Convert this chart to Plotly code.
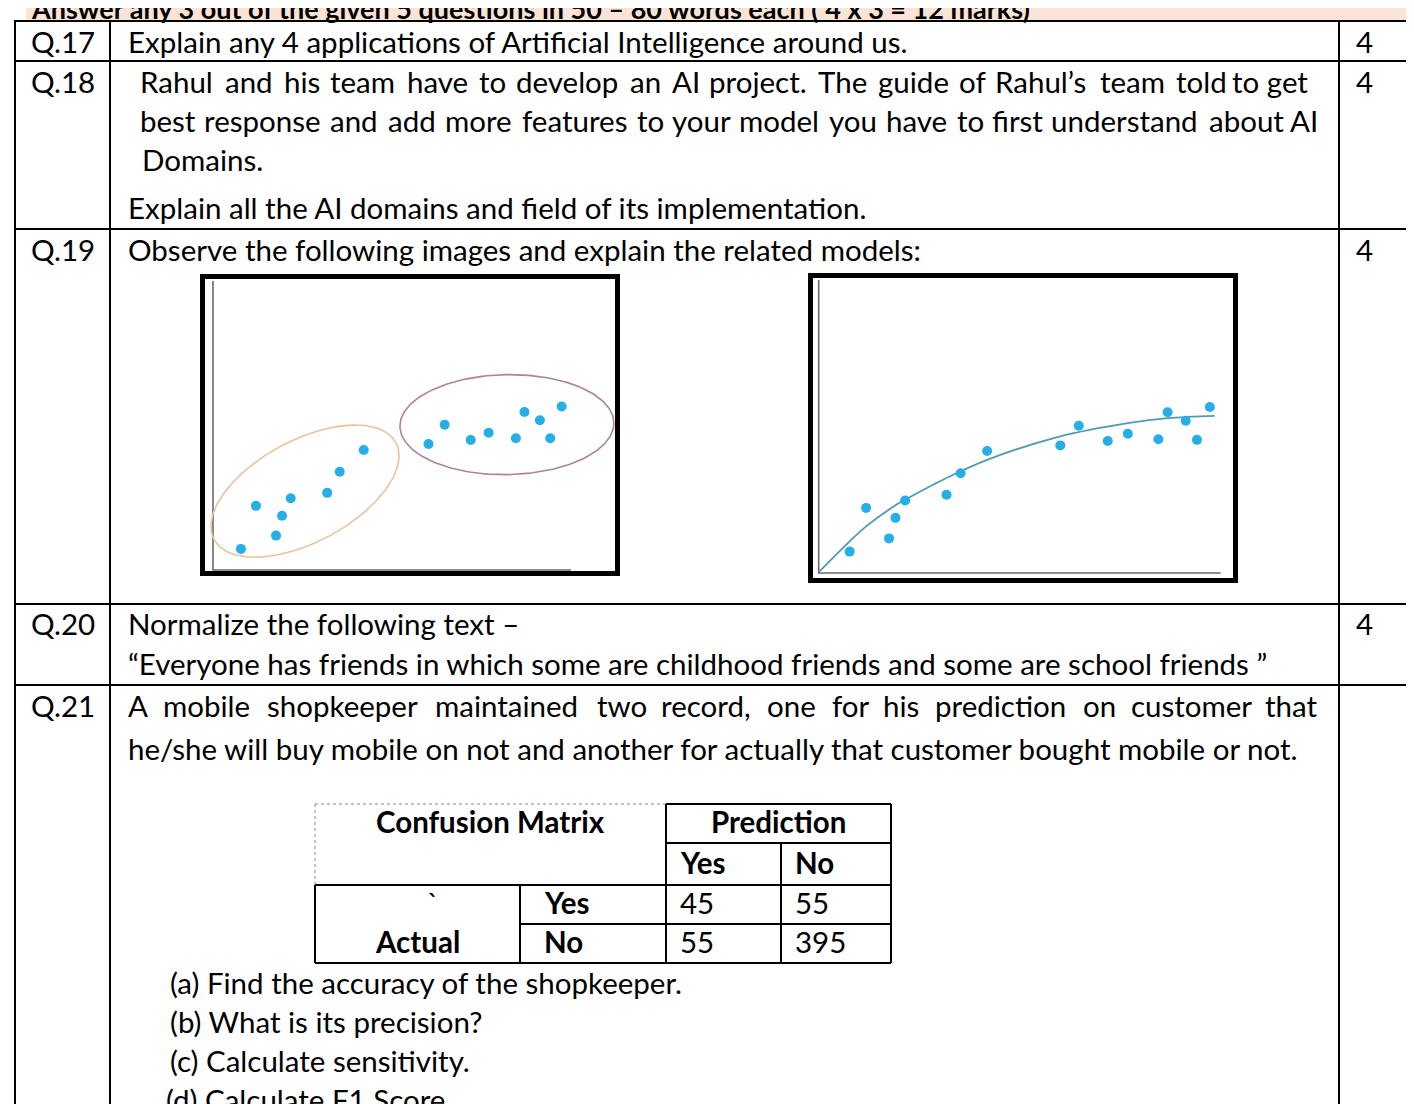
import numpy as np
import plotly.graph_objects as go

W, H = 1414, 1104
FONT = "Lato"
FS = 29.5

# ---------------- data ----------------
# left picture points (data units 0-100 on each axis)
pts_x = [7.8, 17.6, 19.3, 12.0, 21.7, 31.9, 35.4, 42.1, 60.2, 64.7, 72.0, 77.0, 84.6, 87.0, 91.3, 94.2, 97.4]
pts_y = [7.3, 11.9, 18.8, 22.2, 24.8, 26.7, 34.0, 41.5, 43.6, 50.3, 45.0, 47.5, 45.6, 54.7, 51.8, 45.6, 56.6]
# right picture points
rpts_x = [7.7, 11.8, 17.5, 19.1, 21.5, 31.8, 35.3, 41.9, 60.1, 64.7, 71.9, 76.9, 84.5, 86.8, 91.3, 94.1, 97.3]
rpts_y = [7.3, 22.2, 11.8, 18.8, 24.7, 26.7, 34.0, 41.6, 43.5, 50.2, 45.0, 47.5, 45.6, 54.8, 51.9, 45.4, 56.6]
# trend curve
curve_x = [0, 7.7, 11.8, 19.1, 21.5, 31.8, 41.9, 60.1, 76.9, 86.8, 98.5]
curve_y = [0.3, 10.8, 15.9, 23.1, 25.0, 32.4, 38.6, 46.6, 51.1, 52.8, 53.6]

header = "Answer any 3 out of the given 5 questions in 50 – 80 words each ( 4 x 3 = 12 marks)"
q_labels = ["Q.17", "Q.18", "Q.19", "Q.20", "Q.21"]
marks = ["4", "4", "4", "4", ""]
q17 = ["Explain any 4 applications of Artificial Intelligence around us."]
q18 = ["Rahul and his team have to develop an AI project. The guide of Rahul’s team told to get",
       "best response and add more features to your model you have to first understand about AI",
       "Domains.",
       "Explain all the AI domains and field of its implementation."]
q19 = ["Observe the following images and explain the related models:"]
q20 = ["Normalize the following text –",
       "“Everyone has friends in which some are childhood friends and some are school friends ”"]
q21 = ["A mobile shopkeeper maintained two record, one for his prediction on customer that",
       "he/she will buy mobile on not and another for actually that customer bought mobile or not."]
cm_title = "Confusion Matrix"
cm_pred = "Prediction"
cm_actual = "Actual"
cm_col_heads = ["Yes", "No"]
cm_row_heads = ["Yes", "No"]
cm_values = [[45, 55], [55, 395]]
sub_q = ["(a) Find the accuracy of the shopkeeper.",
         "(b) What is its precision?",
         "(c) Calculate sensitivity.",
         "(d) Calculate F1 Score"]

# ---------------- layout constants (pixels) ----------------
TBL_X = [7, 102, 1331]
ROW_Y = [13, 53, 221, 596, 677]
LINE_W = 2
LABEL_X = (TBL_X[0] + TBL_X[1]) / 2
TEXT_X = 118
MARK_X = 1346
DY = -2  # annotation centre vs. visual text centre

# approximate relative glyph advances (em) used only to space justified words
CW = {" ": 0.193, ".": 0.22, ",": 0.22, "’": 0.22, "/": 0.38}
for ch, w_ in zip("abcdefghijklmnopqrstuvwxyz",
                  [.50, .56, .46, .56, .51, .32, .50, .56, .23, .23, .49, .23, .84,
                   .56, .55, .56, .56, .35, .42, .34, .56, .49, .74, .48, .49, .45]):
    CW[ch] = w_
for ch, w_ in zip("ABCDEFGHIJKLMNOPQRSTUVWXYZ",
                  [.66, .63, .66, .73, .55, .53, .71, .74, .27, .38, .64, .49, .89,
                   .74, .77, .59, .77, .62, .52, .58, .71, .66, .99, .64, .61, .60]):
    CW[ch] = w_

fig = go.Figure()
fig.add_trace(go.Scatter(x=[0], y=[0], mode="markers", marker=dict(opacity=0), hoverinfo="skip",
                         showlegend=False, xaxis="x", yaxis="y"))
fig.update_layout(
    width=W, height=H, margin=dict(l=0, r=0, t=0, b=0),
    paper_bgcolor="white", plot_bgcolor="white", showlegend=False,
    xaxis=dict(domain=[0, 1], range=[0, W], visible=False),
    yaxis=dict(domain=[0, 1], range=[H, 0], visible=False),
)

def line(x0, y0, x1, y1, w=LINE_W, color="black", dash=None):
    fig.add_shape(type="line", xref="x", yref="y", x0=x0, y0=y0, x1=x1, y1=y1,
                  line=dict(color=color, width=w, dash=dash), layer="above")

def txt(x, y, s, anchor="left", bold=False, size=FS, dy=DY):
    fig.add_annotation(x=x, y=y + dy, xref="x", yref="y", text=s, showarrow=False,
                       xanchor=anchor, yanchor="middle",
                       font=dict(family=FONT, size=size, color="black",
                                 weight="bold" if bold else "normal"))

def justified(s, x0, x1, y, natural_px, tail=1):
    """Place the words of a justified line so it runs from x0 to x1.
    The last `tail` words stay together, right-aligned at x1."""
    words = s.split(" ")
    words = words[:-tail] + [" ".join(words[-tail:])]
    ew = [sum(CW.get(c, 0.55) for c in w_) for w_ in words]
    sp = CW[" "]
    total = sum(ew) + sp * (len(words) - 1)
    k = natural_px / total
    extra = (x1 - x0 - natural_px) / (len(words) - 1)
    x = x0
    for i, w_ in enumerate(words):
        if i == len(words) - 1:
            txt(x1, y, w_, anchor="right")
        else:
            txt(x, y, w_, anchor="left")
            x += (ew[i] + sp) * k + extra

# header band
fig.add_shape(type="rect", xref="x", yref="y", x0=18, x1=W, y0=0, y1=ROW_Y[0],
              fillcolor="#FBE4D5", line=dict(width=0), layer="below")
txt(21, 0.5, header, bold=True, size=27, dy=0)

# main table grid
for y in ROW_Y:
    line(TBL_X[0] - 1, y, W, y)
for x in TBL_X:
    line(x, ROW_Y[0], x, H)

# question labels and marks
row_first = [35, 75, 243, 617, 699]
for lab, mk, yy in zip(q_labels, marks, row_first):
    txt(LABEL_X, yy, lab, anchor="center")
    if mk:
        txt(MARK_X, yy, mk)

txt(TEXT_X, 35, q17[0])
justified(q18[0], 130, 1302, 75, 1120, tail=2)
justified(q18[1], 130, 1312, 114, 1152)
txt(132, 153, q18[2])
txt(TEXT_X, 201, q18[3])
txt(TEXT_X, 243, q19[0])
txt(TEXT_X, 617, q20[0])
txt(TEXT_X, 657, q20[1])
justified(q21[0], TEXT_X, 1312, 699, 1090)
txt(TEXT_X, 742, q21[1])

# ---------------- pictures ----------------
def add_panel(idx, frame, origin, scale):
    x0, y0, x1, y1 = frame
    ox, oy = origin
    sx, sy = scale
    fig.update_layout(**{
        f"xaxis{idx}": dict(domain=[x0 / W, x1 / W], range=[(x0 - ox) / sx, (x1 - ox) / sx],
                            visible=False, anchor=f"y{idx}"),
        f"yaxis{idx}": dict(domain=[1 - y1 / H, 1 - y0 / H], range=[(oy - y1) / sy, (oy - y0) / sy],
                            visible=False, anchor=f"x{idx}"),
    })
    fig.add_shape(type="rect", xref="x", yref="y", x0=x0 + 2.5, x1=x1 - 2.5, y0=y0 + 2.5, y1=y1 - 2.5,
                  line=dict(color="black", width=5), layer="above")

AX_LEN = 100
AX_COLOR = "#6b6b6b"
DOT = "#27aee6"

def axes_lines(idx):
    fig.add_trace(go.Scatter(x=[0, 0, AX_LEN], y=[AX_LEN, 0, 0], mode="lines",
                             line=dict(color=AX_COLOR, width=1.6), hoverinfo="skip",
                             xaxis=f"x{idx}", yaxis=f"y{idx}"))

def ellipse(idx, cx, cy, a_px, b_px, ang_deg, scale, color):
    sx, sy = scale
    t = np.linspace(0, 2 * np.pi, 241)
    th = np.radians(ang_deg)
    u = a_px * np.cos(t)
    v = b_px * np.sin(t)
    dx = u * np.cos(th) - v * np.sin(th)
    dy = u * np.sin(th) + v * np.cos(th)
    fig.add_trace(go.Scatter(x=cx + dx / sx, y=cy + dy / sy, mode="lines",
                             line=dict(color=color, width=1.6), hoverinfo="skip",
                             xaxis=f"x{idx}", yaxis=f"y{idx}"))

# left picture: clusters
L_SCALE = (3.58, 2.89)
add_panel(2, (192, 266, 612, 568), (205, 562), L_SCALE)
axes_lines(2)
ellipse(2, 25.7, 27.3, 103, 51, 28, L_SCALE, "#e8c49c")
ellipse(2, 82.1, 50.3, 107, 50, 1, L_SCALE, "#ad8494")
fig.add_trace(go.Scatter(x=pts_x, y=pts_y, mode="markers",
                         marker=dict(color=DOT, size=10, line=dict(width=0)),
                         xaxis="x2", yaxis="y2"))

# right picture: regression curve
R_SCALE = (4.02, 2.933)
add_panel(3, (800, 265, 1230, 575), (810.7, 565), R_SCALE)
axes_lines(3)
fig.add_trace(go.Scatter(x=curve_x, y=curve_y, mode="lines",
                         line=dict(color="#4f9bb0", width=1.8, shape="spline"),
                         xaxis="x3", yaxis="y3"))
fig.add_trace(go.Scatter(x=rpts_x, y=rpts_y, mode="markers",
                         marker=dict(color=DOT, size=10, line=dict(width=0)),
                         xaxis="x3", yaxis="y3"))

# ---------------- confusion matrix ----------------
CM_X = [307, 512, 658, 773, 883]
CM_Y = [796, 835, 877, 916, 955]
PAD = 12
CM_FS = 29.5
line(CM_X[0], CM_Y[0], CM_X[2], CM_Y[0], w=1, color="#888888", dash="dot")
line(CM_X[0], CM_Y[0], CM_X[0], CM_Y[2], w=1, color="#888888", dash="dot")
line(CM_X[2], CM_Y[0], CM_X[4], CM_Y[0])
line(CM_X[2], CM_Y[1], CM_X[4], CM_Y[1])
line(CM_X[0], CM_Y[2], CM_X[4], CM_Y[2])
line(CM_X[1], CM_Y[3], CM_X[4], CM_Y[3])
line(CM_X[0], CM_Y[4], CM_X[4], CM_Y[4])
line(CM_X[0], CM_Y[2], CM_X[0], CM_Y[4])
line(CM_X[1], CM_Y[2], CM_X[1], CM_Y[4])
line(CM_X[2], CM_Y[0], CM_X[2], CM_Y[4])
line(CM_X[3], CM_Y[1], CM_X[3], CM_Y[4])
line(CM_X[4], CM_Y[0], CM_X[4], CM_Y[4])

def mid(a, b):
    return (a + b) / 2

txt(mid(CM_X[0], CM_X[2]), mid(CM_Y[0], CM_Y[1]), cm_title, anchor="center", bold=True, size=CM_FS)
txt(mid(CM_X[2], CM_X[4]), mid(CM_Y[0], CM_Y[1]), cm_pred, anchor="center", bold=True, size=CM_FS)
for j, h in enumerate(cm_col_heads):
    txt(CM_X[2 + j] + PAD, mid(CM_Y[1], CM_Y[2]), h, bold=True, size=CM_FS)
txt(425, mid(CM_Y[2], CM_Y[3]), "`", anchor="center")
txt(mid(CM_X[0], CM_X[1]), mid(CM_Y[3], CM_Y[4]), cm_actual, anchor="center", bold=True, size=CM_FS)
for i, h in enumerate(cm_row_heads):
    yy = mid(CM_Y[2 + i], CM_Y[3 + i])
    txt(CM_X[1] + 22, yy, h, bold=True, size=CM_FS)
    for j, v in enumerate(cm_values[i]):
        txt(CM_X[2 + j] + PAD, yy, str(v))

for s, x, y in zip(sub_q, [160, 160, 160, 156], [976, 1015, 1054, 1093]):
    txt(x, y, s)

fig.write_html("out.html")
